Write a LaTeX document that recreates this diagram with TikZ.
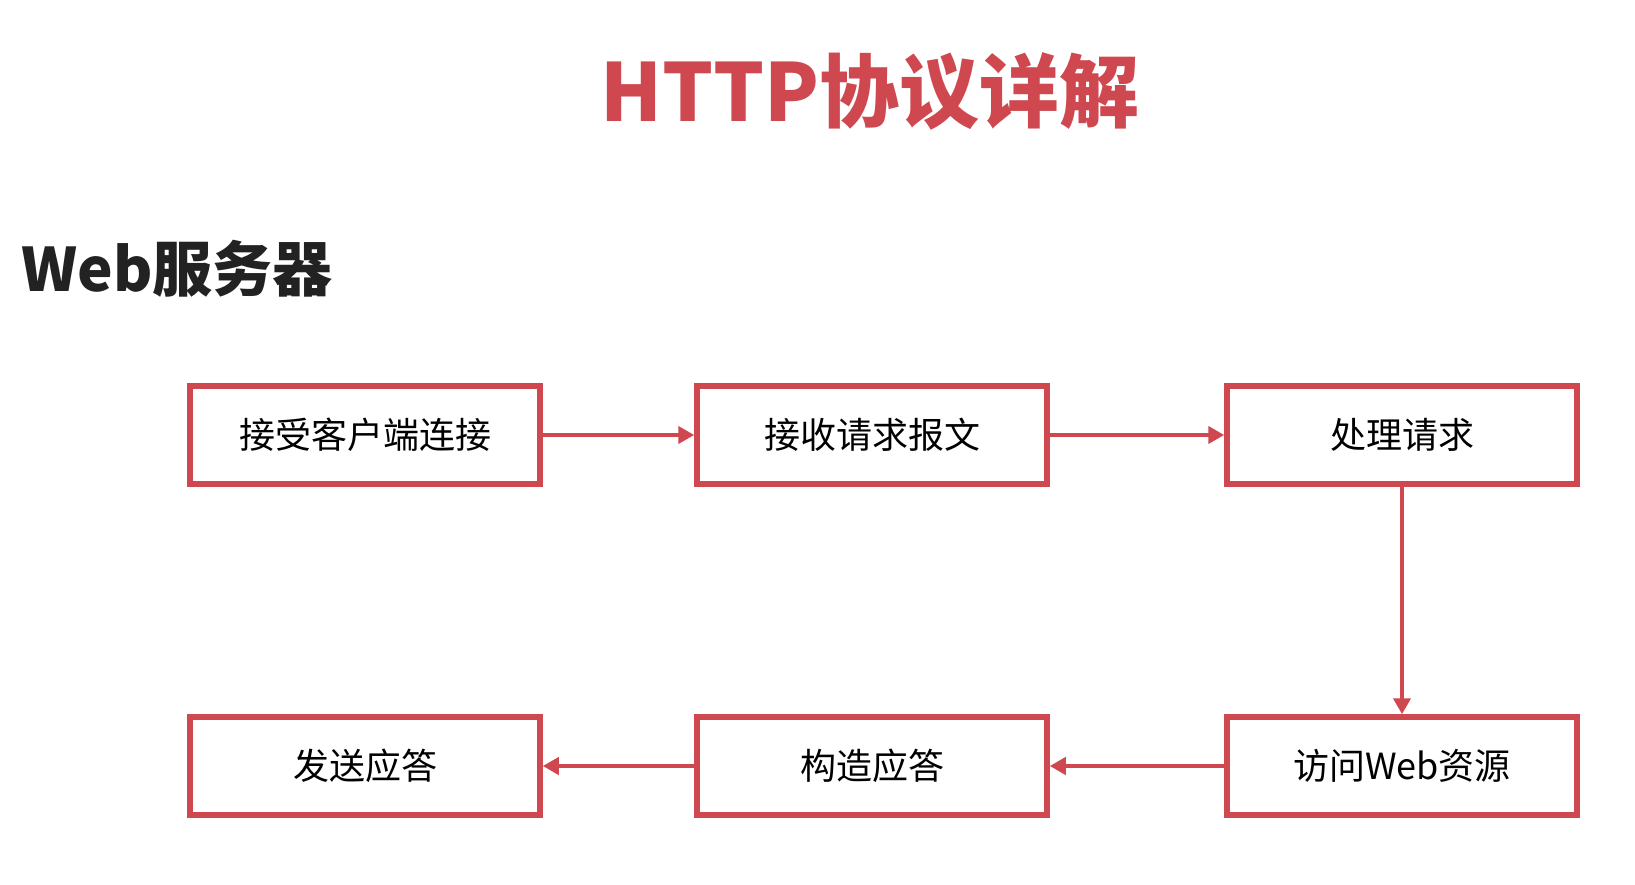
\documentclass[tikz,border=0pt]{standalone}
\usepackage{fontspec}
\usepackage{tikz}
\usepackage{xcolor}
\usetikzlibrary{arrows.meta}
\newfontfamily\cjk{Noto Sans CJK SC}
\definecolor{slidered}{RGB}{207,72,80}
\definecolor{headgray}{RGB}{34,34,34}
\tikzset{
  stepbox/.style={draw=slidered, line width=5.5pt, fill=white, minimum width=350pt,
    minimum height=98pt, inner sep=0pt, font=\cjk\fontsize{36}{42}\selectfont},
  flow/.style={draw=slidered, line width=4pt, -{Triangle[length=16pt,width=17pt]}}
}
\begin{document}
\begin{tikzpicture}[x=1pt,y=1pt]
\useasboundingbox[fill=white] (0,0) rectangle (1635,-885);
\node[text=slidered, font=\cjk\bfseries\fontsize{80}{92}\selectfont] (title) at (870,-91) {HTTP协议详解};
\node[text=headgray, anchor=west, inner sep=0pt, font=\cjk\bfseries\fontsize{60}{70}\selectfont] (head) at (21,-269) {Web服务器};
\node[stepbox] (accept) at (365,-435) {接受客户端连接};
\node[stepbox] (recv) at (872,-435) {接收请求报文};
\node[stepbox] (proc) at (1402,-435) {处理请求};
\node[stepbox] (send) at (365,-766) {发送应答};
\node[stepbox] (build) at (872,-766) {构造应答};
\node[stepbox] (res) at (1402,-766) {访问Web资源};
\draw[flow] (accept) -- (recv);
\draw[flow] (recv) -- (proc);
\draw[flow] (proc) -- (res);
\draw[flow] (res) -- (build);
\draw[flow] (build) -- (send);
\end{tikzpicture}
\end{document}
